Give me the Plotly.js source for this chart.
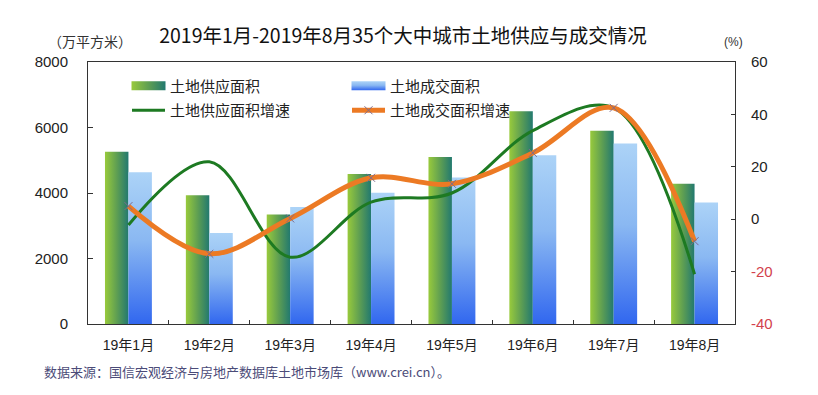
<!DOCTYPE html>
<html><head><meta charset="utf-8">
<script src="https://cdn.plot.ly/plotly-3.0.1.min.js"></script>
<style>html,body{margin:0;padding:0;background:#fff;}#chart{width:818px;height:395px;}</style>
</head><body><div id="chart"></div>
<script>
const months = ['19年1月','19年2月','19年3月','19年4月','19年5月','19年6月','19年7月','19年8月'];
const supplyArea = [5260, 3930, 3340, 4580, 5100, 6500, 5900, 4280];
const tradeArea = [4630, 2780, 3570, 4010, 4470, 5150, 5510, 3710];
const supplyGrowth = [-2.2, 21.9, -14.5, 6.5, 10, 33.8, 42.5, -21];
const tradeGrowth = [5.0, -13.2, 0.3, 15.8, 13.5, 25.3, 42.5, -8.4];
const leftTickVals = [0, 2000, 4000, 6000, 8000];
const rightTickVals = [-40, -20, 0, 20, 40, 60];
const seriesNames = ['土地供应面积', '土地成交面积', '土地供应面积增速', '土地成交面积增速'];
const chartTitle = '2019年1月-2019年8月35个大中城市土地供应与成交情况';
const leftUnit = '（万平方米）';
const rightUnit = '(%)';
const sourceNote = '数据来源：国信宏观经济与房地产数据库土地市场库（www.crei.cn）。';

const W = 818, H = 395, L = 88, R = 83, T = 62, B = 71;
const pw = W - L - R, ph = H - T - B;
const px = x => (x - L) / pw;
const py = y => (H - B - y) / ph;
const FONT = '"Liberation Sans", "Noto Sans CJK SC", Arial, sans-serif';
const CJK = '"Noto Sans CJK SC", "Liberation Sans", sans-serif';

const rightTickText = rightTickVals.map(v => v < 0 ? '<span style="color:#d2414d">' + v + '</span>' : String(v));

const data = [
  {type: 'bar', name: seriesNames[0], x: months, y: supplyArea, marker: {color: '#5fa050'}, legend: 'legend', legendgroup: 'a'},
  {type: 'bar', name: seriesNames[1], x: months, y: tradeArea, marker: {color: '#7aaaf0'}, legend: 'legend2', legendgroup: 'b'},
  {type: 'scatter', mode: 'lines', name: seriesNames[2], x: months, y: supplyGrowth, yaxis: 'y2',
   line: {color: '#1d7a22', width: 3, shape: 'spline', smoothing: 1}, legend: 'legend', legendgroup: 'c'},
  {type: 'scatter', mode: 'lines+markers', name: seriesNames[3], x: months, y: tradeGrowth, yaxis: 'y2',
   line: {color: '#ec7a24', width: 5, shape: 'spline', smoothing: 1},
   marker: {symbol: 'x-thin-open', size: 8, color: '#7d6b8c', line: {color: '#7d6b8c', width: 1}},
   legend: 'legend2', legendgroup: 'd'}
];

const legendBase = {xanchor: 'left', yanchor: 'top', bgcolor: 'rgba(0,0,0,0)', font: {family: CJK, size: 15, color: '#222'},
  itemwidth: 33, tracegroupgap: 2, orientation: 'v'};

const layout = {
  width: W, height: H,
  margin: {l: L, r: R, t: T, b: B},
  paper_bgcolor: '#fff', plot_bgcolor: '#fff',
  font: {family: FONT, color: '#222'},
  title: {text: chartTitle, x: 403 / W, xanchor: 'center', y: 1 - 36 / H, yanchor: 'middle', font: {family: CJK, size: 19.5, color: '#111'}},
  barmode: 'group', bargap: 0.42, bargroupgap: 0,
  showlegend: true,
  legend: Object.assign({}, legendBase, {x: px(127), y: py(69.5)}),
  legend2: Object.assign({}, legendBase, {x: px(347), y: py(69.5)}),
  xaxis: {type: 'category', range: [-0.5, 7.5], showline: true, linecolor: '#333', linewidth: 1, mirror: true,
    ticks: 'inside', ticklen: 4, tickcolor: '#333', tickson: 'boundaries', showgrid: false, zeroline: false,
    tickfont: {family: FONT, size: 14, color: '#222'}, ticklabelstandoff: 8},
  yaxis: {range: [0, 8000], tickvals: leftTickVals, showline: true, linecolor: '#333', linewidth: 1,
    ticks: 'inside', ticklen: 5, tickcolor: '#333', showgrid: false, zeroline: false,
    tickfont: {family: FONT, size: 15, color: '#222'}, ticklabelstandoff: 16},
  yaxis2: {overlaying: 'y', side: 'right', range: [-40, 60], tickvals: rightTickVals, ticktext: rightTickText,
    showline: true, linecolor: '#333', linewidth: 1, ticks: 'inside', ticklen: 4, tickcolor: '#333',
    showgrid: false, zeroline: false, tickfont: {family: FONT, size: 15, color: '#222'}, ticklabelstandoff: 12},
  annotations: [
    {text: leftUnit, xref: 'paper', yref: 'paper', x: px(90), y: py(41), xanchor: 'center', yanchor: 'middle',
     showarrow: false, font: {family: CJK, size: 14, color: '#333'}},
    {text: rightUnit, xref: 'paper', yref: 'paper', x: px(733), y: py(42), xanchor: 'center', yanchor: 'middle',
     showarrow: false, font: {family: FONT, size: 12, color: '#333'}},
    {text: sourceNote, xref: 'paper', yref: 'paper', x: px(42), y: py(371), xanchor: 'left', yanchor: 'middle',
     showarrow: false, font: {family: CJK, size: 13, color: '#4b4b78'}}
  ]
};

const ns = 'http://www.w3.org/2000/svg';
const SWATCH_D = 'M-17,-4.5H17V4.5H-17Z';
function ensureGradients(gd) {
  const svg = gd.querySelector('svg.main-svg');
  if (!svg) return;
  let defs = svg.querySelector('defs');
  if (!defs) { defs = document.createElementNS(ns, 'defs'); svg.insertBefore(defs, svg.firstChild); }
  function grad(id, x2, y2, stops) {
    if (document.getElementById(id)) return;
    const g = document.createElementNS(ns, 'linearGradient');
    g.setAttribute('id', id);
    g.setAttribute('x1', '0'); g.setAttribute('y1', '0');
    g.setAttribute('x2', x2); g.setAttribute('y2', y2);
    stops.forEach(([o, c]) => {
      const s = document.createElementNS(ns, 'stop');
      s.setAttribute('offset', o); s.setAttribute('stop-color', c);
      g.appendChild(s);
    });
    defs.appendChild(g);
  }
  grad('gSupply', '1', '0', [['0', '#98ca3c'], ['0.5', '#5f9f52'], ['1', '#22796f']]);
  grad('gTrade', '0', '1', [['0', '#acd3f7'], ['0.45', '#8ab8f2'], ['1', '#3167ef']]);
}
function setFill(p, v) { if (p.style.fill !== v) p.style.fill = v; }
function patch(gd) {
  ensureGradients(gd);
  const bt = gd.querySelectorAll('.barlayer .trace');
  if (bt[0]) bt[0].querySelectorAll('path').forEach(p => setFill(p, 'url("#gSupply")'));
  if (bt[1]) bt[1].querySelectorAll('path').forEach(p => setFill(p, 'url("#gTrade")'));
  gd.querySelectorAll('g.traces').forEach(item => {
    const t = item.querySelector('text');
    if (!t) return;
    const name = t.textContent.trim();
    const id = name === seriesNames[0] ? 'gSupply' : (name === seriesNames[1] ? 'gTrade' : null);
    if (!id) return;
    item.querySelectorAll('path').forEach(p => {
      const cls = p.getAttribute('class') || '';
      if (cls.indexOf('legendtoggle') >= 0) return;
      if (p.getAttribute('d') !== SWATCH_D) p.setAttribute('d', SWATCH_D);
      if (p.getAttribute('transform') !== 'translate(21.5,0)') p.setAttribute('transform', 'translate(21.5,0)');
      setFill(p, 'url("#' + id + '")');
    });
  });
}
const gdEl = document.getElementById('chart');
const obs = new MutationObserver(() => patch(gdEl));
obs.observe(gdEl, {childList: true, subtree: true});
Plotly.newPlot(gdEl, data, layout, {staticPlot: true}).then(gd => {
  patch(gd);
  gd.on('plotly_afterplot', () => patch(gd));
  setTimeout(() => patch(gd), 30);
});
</script>
</body></html>
